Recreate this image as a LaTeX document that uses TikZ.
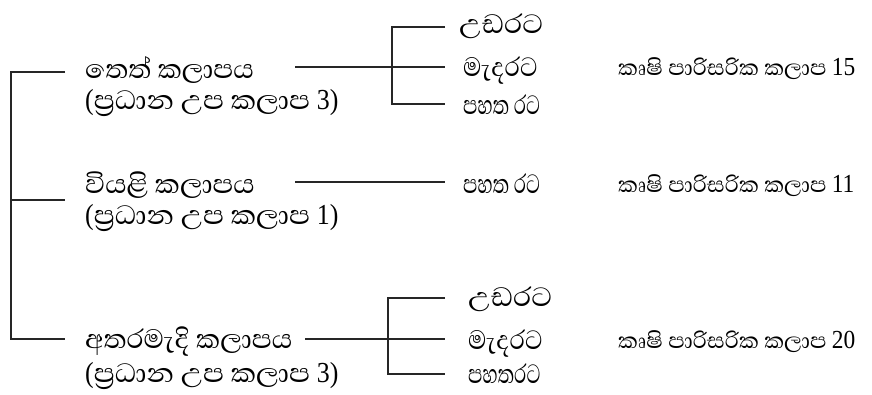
\documentclass[tikz,border=0pt]{standalone}
\usepackage{fontspec}
\usepackage{graphicx}
\newfontfamily\sinhala[Script=Sinhala]{Abhaya Libre}
\newfontfamily\numfont{Liberation Serif}
% horizontally squeezed or widened word
\newcommand{\wide}[2]{\scalebox{#1}[1]{#2}}
% digits and brackets in a Times-like face
\newcommand{\nm}[1]{{\numfont\fontsize{29}{32}\selectfont\scalebox{0.85}[1]{#1}}}
\newcommand{\nms}[1]{{\numfont\fontsize{26}{30}\selectfont\scalebox{0.9}[1]{#1}}}
\begin{document}
\begin{tikzpicture}[x=1pt,y=-1pt,
  zone/.style={anchor=base west,inner sep=0pt,text height=22pt,text depth=4pt,
    font=\sinhala\fontsize{34}{38}\selectfont},
  sub/.style={anchor=base west,inner sep=0pt,text height=22pt,text depth=4pt,
    font=\sinhala\fontsize{34}{38}\selectfont},
  agro/.style={anchor=base west,inner sep=0pt,text height=18pt,text depth=3pt,
    font=\sinhala\fontsize{28}{32}\selectfont},
  link/.style={line width=1.6pt,color=black!85}]
\useasboundingbox (0,0) rectangle (872,394);

% main zones
\node[zone] (wet) at (85,78) {තෙත් කලාපය};
\node[zone] (wetsub) at (85,109) {\wide{1.05}{\nm{(}ප්‍රධාන උප කලාප \nm{3)}}};
\node[zone] (dry) at (85,193) {\wide{1.04}{වියළි කලාපය}};
\node[zone] (drysub) at (85,224) {\wide{1.05}{\nm{(}ප්‍රධාන උප කලාප \nm{1)}}};
\node[zone] (mid) at (85,348) {අතරමැදි කලාපය};
\node[zone] (midsub) at (85,382) {\wide{1.05}{\nm{(}ප්‍රධාන උප කලාප \nm{3)}}};

% left bracket
\coordinate (lt) at (11,72);
\coordinate (lm) at (11,200);
\coordinate (lb) at (11,339);
\draw[link] (65,72) -- (lt) -- (lb) -- (65,339);
\draw[link] (lm) -- (65,200);

% wet zone branches
\node[sub] (w1) at (459,33) {\wide{1.07}{උඩරට}};
\node[sub] (w2) at (463,76) {\wide{0.9}{මැදරට}};
\node[sub] (w3) at (463,114) {\wide{0.72}{පහත රට}};
\node[agro] (wa) at (618,75) {කෘෂි පාරිසරික කලාප \nms{15}};
\coordinate (wj) at (392,67);
\draw[link] (295,67) -- (wj);
\draw[link] (445,27) -- (392,27) -- (392,104) -- (445,104);
\draw[link] (wj) -- (445,67);

% dry zone branch
\node[sub] (d1) at (463,193) {\wide{0.72}{පහත රට}};
\node[agro] (da) at (618,192) {කෘෂි පාරිසරික කලාප \nms{11}};
\draw[link] (295,182) -- (445,182);

% intermediate zone branches
\node[sub] (m1) at (468,306) {\wide{1.07}{උඩරට}};
\node[sub] (m2) at (468,349) {\wide{0.9}{මැදරට}};
\node[sub] (m3) at (468,383) {\wide{0.72}{පහතරට}};
\node[agro] (ma) at (618,348) {කෘෂි පාරිසරික කලාප \nms{20}};
\coordinate (mj) at (388,339);
\draw[link] (305,339) -- (mj);
\draw[link] (445,298) -- (388,298) -- (388,374) -- (445,374);
\draw[link] (mj) -- (445,339);
\end{tikzpicture}
\end{document}
